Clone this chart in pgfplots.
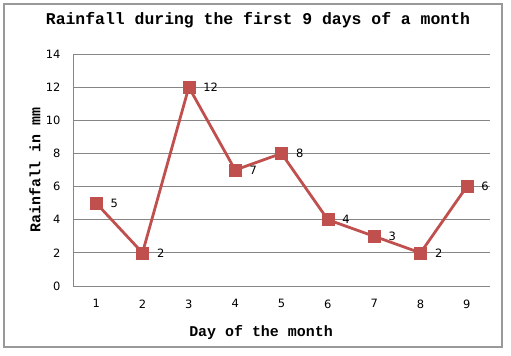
\documentclass[border=0pt]{standalone}
\usepackage{fontspec}
\setmainfont{DejaVu Sans}
\newfontfamily\monob{Liberation Mono}
\usepackage{pgfplots}
\pgfplotsset{compat=1.18}
\definecolor{lineR}{HTML}{C0504D}
\definecolor{gridG}{HTML}{868686}
\begin{document}
\begin{tikzpicture}[x=1bp,y=1bp]
\useasboundingbox (-73,-69) rectangle (438,286);
\draw[color=gray!80, line width=1.2bp] (-69,-61) rectangle (429,282);
\begin{axis}[
  at={(0,0)}, anchor=south west,
  scale only axis, width=417bp, height=232bp,
  xmin=0.5, xmax=9.5, ymin=0, ymax=14,
  xtick={1,...,9}, ytick={0,2,...,14},
  axis x line*=bottom, axis y line*=left,
  axis line style={gridG, line width=0.8bp, -},
  ymajorgrids, grid style={gridG, line width=0.8bp},
  major tick length=0pt,
  tick label style={font=\fontsize{11.5}{13}\selectfont},
  /pgf/number format/assume math mode=true,
  yticklabel style={xshift=-9bp},
  xticklabel style={yshift=-10bp},
  clip=false,
]
\addplot[lineR, line width=2.8bp, mark=square*, mark size=6bp,
  mark options={fill=lineR, draw=lineR, line width=0.5bp},
  nodes near coords, every node near coord/.append style={anchor=west, xshift=11bp, text=black, font=\fontsize{11.5}{13}\selectfont}]
coordinates {(1,5) (2,2) (3,12) (4,7) (5,8) (6,4) (7,3) (8,2) (9,6)};
\end{axis}
\node[font=\monob\bfseries\fontsize{16.5}{18}\selectfont] at (185,266) {Rainfall during the first 9 days of a month};
\node[font=\monob\bfseries\fontsize{15}{17}\selectfont, rotate=90] at (-38,116) {Rainfall in mm};
\node[font=\monob\bfseries\fontsize{15}{17}\selectfont] at (188,-47) {Day of the month};
\end{tikzpicture}
\end{document}
